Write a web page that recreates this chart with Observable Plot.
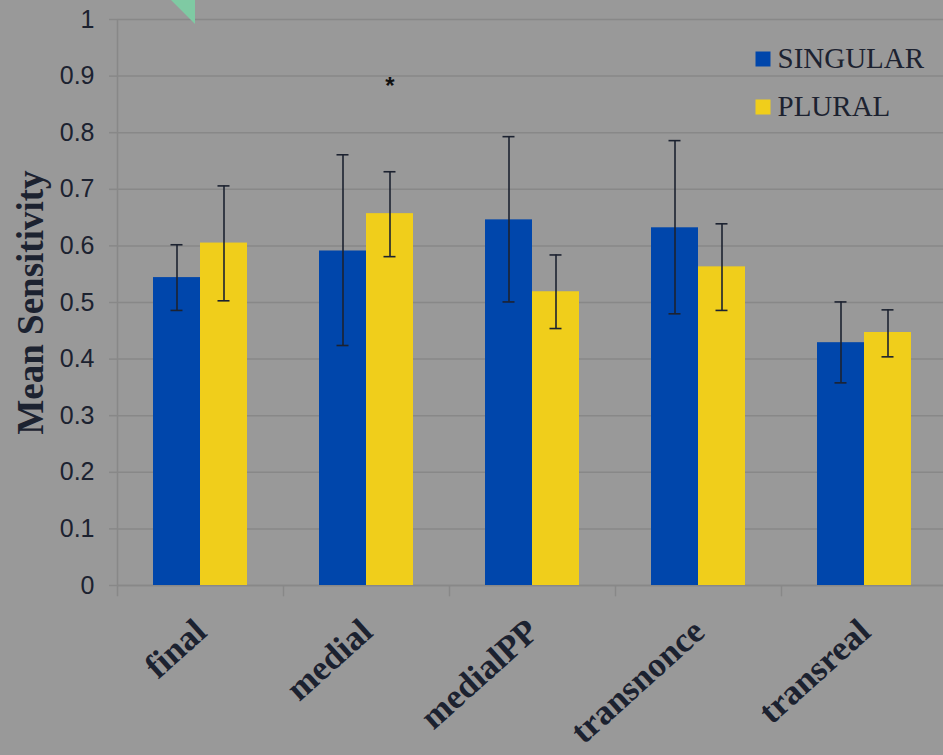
<!DOCTYPE html>
<html>
<head>
<meta charset="utf-8">
<script src="https://cdn.jsdelivr.net/npm/d3@7"></script>
<script src="https://cdn.jsdelivr.net/npm/@observablehq/plot@0.6"></script>
<style>
  html, body { margin: 0; padding: 0; background: #999999; }
  #wrap { position: relative; width: 943px; height: 755px; overflow: hidden; }
  #deco { position: absolute; left: 171px; top: 0; width: 0; height: 0;
          border-top: 24px solid #7fcaa3; border-left: 24px solid transparent; }
</style>
</head>
<body>
<div id="wrap"><div id="chart"></div><div id="deco"></div></div>
<script>
const categories = ["final", "medial", "medialPP", "transnonce", "transreal"];
const series = ["SINGULAR", "PLURAL"];
const singularMean = [0.544, 0.591, 0.646, 0.632, 0.429];
const singularLow  = [0.486, 0.424, 0.501, 0.480, 0.358];
const singularHigh = [0.602, 0.761, 0.793, 0.786, 0.501];
const pluralMean = [0.605, 0.657, 0.519, 0.563, 0.447];
const pluralLow  = [0.503, 0.581, 0.454, 0.486, 0.404];
const pluralHigh = [0.706, 0.731, 0.584, 0.639, 0.487];
const yTicks = [0, 0.1, 0.2, 0.3, 0.4, 0.5, 0.6, 0.7, 0.8, 0.9, 1];
const seriesColors = ["#0046ab", "#f0ce1b"];
const significance = [{cat: "medial", series: "PLURAL", y: 0.882, label: "*"}];

const W = 943, H = 755;
const padL = 117, padR = 947, padT = 19, padB = 585;
const bw = (padR - padL) / categories.length;   // band width
const barW = 47;                                  // bar width
const capW = 12;
const ink = "#1c2230";
const gridColor = "#888888";

const rows = [];
categories.forEach((c, i) => {
  rows.push({cat: c, series: "SINGULAR", mean: singularMean[i], lo: singularLow[i], hi: singularHigh[i]});
  rows.push({cat: c, series: "PLURAL", mean: pluralMean[i], lo: pluralLow[i], hi: pluralHigh[i]});
});

const marks = [
  Plot.gridY(yTicks, {stroke: gridColor, strokeOpacity: 1, strokeWidth: 1.5}),
  Plot.axisY(yTicks, {tickSize: 8, tickPadding: 15, stroke: gridColor, strokeWidth: 1.5,
    fill: ink, fontSize: 25, fontFamily: "Liberation Sans, Arial, sans-serif", tickFormat: d => String(d), label: null}),
  Plot.ruleX([categories[0]], {x: d => d, dx: -bw / 2, y1: 1, y2: -0.02, stroke: gridColor, strokeWidth: 1.5}),
  Plot.ruleX(categories.slice(1), {x: d => d, dx: -bw / 2, y1: 0, y2: -0.02, stroke: gridColor, strokeWidth: 1.5}),
  Plot.ruleY([0], {stroke: gridColor, strokeWidth: 1.5})
];

series.forEach((s, k) => {
  const data = rows.filter(r => r.series === s);
  const off = k === 0 ? -barW / 2 : barW / 2;
  const inL = bw / 2 + (k === 0 ? -barW : 0);
  const inR = bw / 2 - (k === 0 ? 0 : barW);
  marks.push(Plot.barY(data, {x: "cat", y: "mean", fill: seriesColors[k], insetLeft: inL, insetRight: inR}));
  marks.push(Plot.ruleX(data, {x: "cat", y1: "lo", y2: "hi", dx: off, stroke: ink, strokeWidth: 1.6}));
  const cL = bw / 2 + off - capW / 2, cR = bw / 2 - off - capW / 2;
  marks.push(Plot.tickY(data, {x: "cat", y: "hi", insetLeft: cL, insetRight: cR, stroke: ink, strokeWidth: 1.6}));
  marks.push(Plot.tickY(data, {x: "cat", y: "lo", insetLeft: cL, insetRight: cR, stroke: ink, strokeWidth: 1.6}));
  // legend
  marks.push(Plot.dot([s], {frameAnchor: "top-left", dx: 645.5, dy: 39.5 + k * 48, symbol: "square",
    r: 15 / Math.sqrt(Math.PI), fill: seriesColors[k], stroke: null}));
  marks.push(Plot.text([s], {frameAnchor: "top-left", dx: 660, dy: 48 + k * 48, text: d => d,
    textAnchor: "start", lineAnchor: "bottom", fontSize: 29, fill: ink,
    fontFamily: "Liberation Serif, 'Times New Roman', serif"}));
});

marks.push(Plot.text(significance, {x: "cat", y: "y", text: "label", dx: barW / 2,
  fontSize: 24, fontWeight: "bold", fill: "#111", fontFamily: "Liberation Sans, Arial, sans-serif"}));

marks.push(Plot.text(categories, {x: d => d, frameAnchor: "bottom", text: d => d, rotate: -42,
  textAnchor: "end", lineAnchor: "bottom", dx: 8, dy: 49, fontSize: 35, fontWeight: "bold", fill: ink,
  fontFamily: "Liberation Serif, 'Times New Roman', serif"}));

marks.push(Plot.text(["Mean Sensitivity"], {frameAnchor: "left", text: d => d, rotate: -90,
  textAnchor: "middle", lineAnchor: "bottom",
  dx: -75, dy: 0, fontSize: 37, fontWeight: "bold", fill: ink,
  fontFamily: "Liberation Serif, 'Times New Roman', serif"}));

const chart = Plot.plot({
  width: W, height: H,
  marginLeft: padL, marginRight: 0, marginTop: padT, marginBottom: H - padB,
  x: {domain: categories, range: [padL, padR], padding: 0, axis: null},
  y: {domain: [0, 1], axis: null},
  style: {background: "#999999", overflow: "visible"},
  marks
});
document.getElementById("chart").appendChild(chart);
</script>
</body>
</html>
